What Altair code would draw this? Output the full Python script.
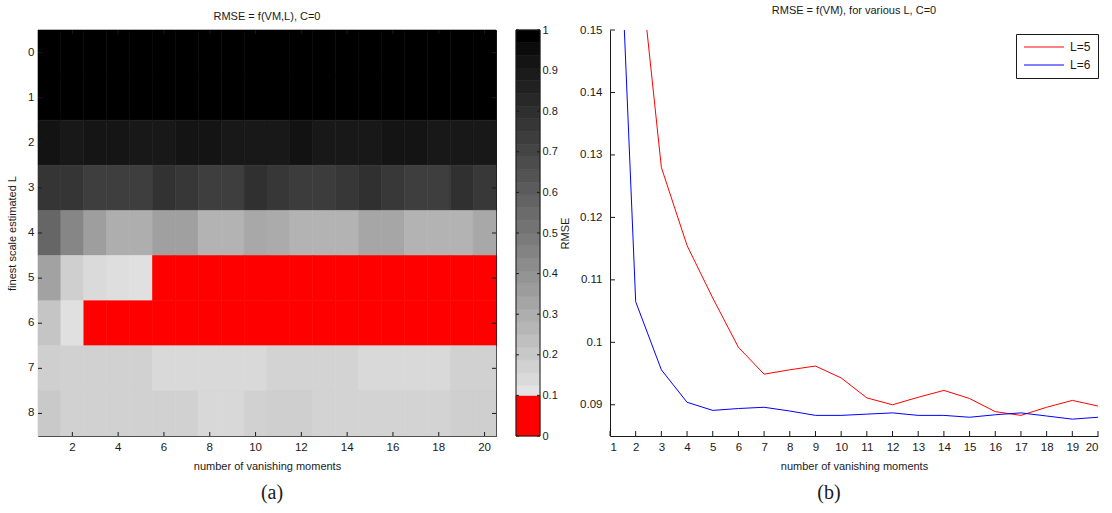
import altair as alt
import pandas as pd

# ---------------------------------------------------------------- data
vanishing_moments = [1, 2, 3, 4, 5, 6, 7, 8, 9, 10, 11, 12, 13, 14, 15, 16, 17, 18, 19, 20]
scales_L = [0, 1, 2, 3, 4, 5, 6, 7, 8]

# RMSE versus number of vanishing moments for the two best finest scales
rmse_L5 = [0.335, 0.167, 0.128, 0.1155, 0.1071, 0.0992, 0.0949, 0.0956, 0.0962, 0.0943,
           0.0911, 0.0900, 0.0912, 0.0923, 0.0910, 0.0889, 0.0883, 0.0896, 0.0907, 0.0898]
rmse_L6 = [0.205, 0.1065, 0.0956, 0.0904, 0.0891, 0.0894, 0.0896, 0.0890, 0.0883, 0.0883,
           0.0885, 0.0887, 0.0883, 0.0883, 0.0880, 0.0884, 0.0887, 0.0882, 0.0877, 0.0880]

# RMSE map, one row per finest scale L (rows 5 and 6 are the curves above)
rmse_L0 = [1.0, 1.0, 1.0, 1.0, 1.0, 1.0, 1.0, 1.0, 1.0, 1.0,
           1.0, 1.0, 1.0, 1.0, 1.0, 1.0, 1.0, 1.0, 1.0, 1.0]
rmse_L1 = [1.0, 1.0, 1.0, 1.0, 1.0, 1.0, 1.0, 1.0, 1.0, 1.0,
           1.0, 1.0, 1.0, 1.0, 1.0, 1.0, 1.0, 1.0, 1.0, 1.0]
rmse_L2 = [0.94, 0.92, 0.93, 0.93, 0.915, 0.915, 0.935, 0.935, 0.92, 0.92,
           0.92, 0.945, 0.92, 0.92, 0.92, 0.935, 0.935, 0.915, 0.915, 0.915]
rmse_L3 = [0.78, 0.78, 0.74, 0.74, 0.74, 0.79, 0.77, 0.74, 0.74, 0.80,
           0.77, 0.745, 0.745, 0.77, 0.80, 0.765, 0.737, 0.737, 0.80, 0.765]
rmse_L4 = [0.57, 0.44, 0.35, 0.29, 0.29, 0.34, 0.34, 0.27, 0.27, 0.31,
           0.30, 0.27, 0.27, 0.27, 0.32, 0.32, 0.27, 0.27, 0.27, 0.31]
rmse_L7 = [0.17, 0.16, 0.16, 0.16, 0.16, 0.133, 0.133, 0.133, 0.133, 0.133,
           0.153, 0.153, 0.153, 0.153, 0.133, 0.133, 0.133, 0.133, 0.16, 0.16]
rmse_L8 = [0.19, 0.16, 0.16, 0.16, 0.16, 0.16, 0.16, 0.137, 0.137, 0.16,
           0.17, 0.17, 0.153, 0.153, 0.153, 0.153, 0.153, 0.153, 0.17, 0.17]

map_rows = [rmse_L0, rmse_L1, rmse_L2, rmse_L3, rmse_L4, rmse_L5, rmse_L6, rmse_L7, rmse_L8]

series_names = ["L=5", "L=6"]
series_values = [rmse_L5, rmse_L6]

# tick positions
map_x_ticks = [2, 4, 6, 8, 10, 12, 14, 16, 18, 20]
map_y_ticks = [0, 1, 2, 3, 4, 5, 6, 7, 8]
cbar_ticks = [0, 0.1, 0.2, 0.3, 0.4, 0.5, 0.6, 0.7, 0.8, 0.9, 1]
line_x_ticks = [1, 2, 3, 4, 5, 6, 7, 8, 9, 10, 11, 12, 13, 14, 15, 16, 17, 18, 19, 20]
line_y_ticks = [0.09, 0.10, 0.11, 0.12, 0.13, 0.14, 0.15]

RED_BELOW = 0.1

# ---------------------------------------------------------------- styling
FONT = "Liberation Sans"
SERIF = "Liberation Serif"
INK = "#1a1a1a"
H = 406
W_MAP = 458
W_BAR = 24
W_BAR_BOX = 74
W_LINE = 488

gray = alt.Scale(domain=[0, 1], range=["#ffffff", "#000000"])

def red_or_gray(channel, field, test):
    return alt.condition(test, alt.value("#ff0000"), channel(field, scale=gray, legend=None))

# ---------------------------------------------------------------- (a) map
map_df = pd.DataFrame(
    [{"vm": v, "L": l, "rmse": r}
     for l, row in zip(scales_L, map_rows) for v, r in zip(vanishing_moments, row)]
)

x_map = alt.X(
    "vm:O",
    scale=alt.Scale(paddingInner=0, paddingOuter=0),
    axis=alt.Axis(values=map_x_ticks, labelAngle=0, ticks=False, domain=False,
                  labelPadding=5, title="number of vanishing moments", titlePadding=8),
)
y_map = alt.Y(
    "L:O",
    scale=alt.Scale(paddingInner=0, paddingOuter=0),
    axis=alt.Axis(values=map_y_ticks, ticks=False, domain=False, labelPadding=4,
                  title="finest scale estimated L", titlePadding=10),
)

cells = alt.Chart(map_df).mark_rect(strokeWidth=0.6).encode(
    x=x_map,
    y=y_map,
    color=red_or_gray(alt.Color, "rmse:Q", f"datum.rmse < {RED_BELOW}"),
    stroke=red_or_gray(alt.Stroke, "rmse:Q", f"datum.rmse < {RED_BELOW}"),
)

mx = pd.DataFrame({"vm": map_x_ticks})
my = pd.DataFrame({"L": map_y_ticks})
tick_style = dict(color=INK, strokeWidth=1)
map_ticks = [
    alt.Chart(mx).mark_rule(**tick_style).encode(x=x_map, y=alt.value(H), y2=alt.value(H - 4)),
    alt.Chart(mx).mark_rule(**tick_style).encode(x=x_map, y=alt.value(0), y2=alt.value(4)),
    alt.Chart(my).mark_rule(**tick_style).encode(y=y_map, x=alt.value(0), x2=alt.value(4)),
    alt.Chart(my).mark_rule(**tick_style).encode(y=y_map, x=alt.value(W_MAP - 4), x2=alt.value(W_MAP)),
]

cap_a = alt.Chart(pd.DataFrame({"cap": ["(a)"]})).mark_text(
    font=SERIF, fontSize=20, color=INK, baseline="middle"
).encode(text="cap:N", x=alt.value(234), y=alt.value(H + 57))

heat = alt.layer(cells, *map_ticks, cap_a).properties(
    width=W_MAP,
    height=H,
    title="RMSE = f(VM,L), C=0",
    view=alt.ViewBackground(stroke=INK, strokeWidth=1),
)

# ---------------------------------------------------------------- colour bar
# 32-step gray map, lowest band (below RED_BELOW) in red
edges = [0, RED_BELOW] + [k / 32 for k in range(4, 33)]
levels = [0] + [k / 31 for k in range(3, 32)]
cb_df = pd.DataFrame({"lo": edges[:-1], "hi": edges[1:], "level": levels})

y_bar = alt.Y(
    "lo:Q",
    scale=alt.Scale(domain=[0, 1], nice=False, zero=False),
    axis=alt.Axis(orient="right", offset=-(W_BAR_BOX - W_BAR), values=cbar_ticks, format="~g",
                  ticks=False, domain=False, grid=False, labelPadding=2, labelFontSize=11,
                  title=None),
)

bands = alt.Chart(cb_df).mark_rect(strokeWidth=0.6).encode(
    x=alt.value(0), x2=alt.value(W_BAR),
    y=y_bar, y2="hi:Q",
    color=red_or_gray(alt.Color, "level:Q", f"datum.lo < {RED_BELOW}"),
    stroke=red_or_gray(alt.Stroke, "level:Q", f"datum.lo < {RED_BELOW}"),
)
bar_frame = alt.Chart(pd.DataFrame({"lo": [0], "hi": [1]})).mark_rect(
    fillOpacity=0, stroke=INK, strokeWidth=1
).encode(x=alt.value(0), x2=alt.value(W_BAR), y=y_bar, y2="hi:Q")

ct = pd.DataFrame({"lo": cbar_ticks})
bar_ticks = [
    alt.Chart(ct).mark_rule(**tick_style).encode(y=y_bar, x=alt.value(0), x2=alt.value(3)),
    alt.Chart(ct).mark_rule(**tick_style).encode(y=y_bar, x=alt.value(W_BAR - 3), x2=alt.value(W_BAR)),
]

cbar = alt.layer(bands, bar_frame, *bar_ticks).properties(width=W_BAR_BOX, height=H)

# ---------------------------------------------------------------- (b) curves
line_df = pd.DataFrame(
    [{"vm": v, "rmse": r, "series": name}
     for name, vals in zip(series_names, series_values) for v, r in zip(vanishing_moments, vals)]
)

x_line = alt.X(
    "vm:Q",
    scale=alt.Scale(domain=[1, 20], nice=False, zero=False),
    axis=alt.Axis(values=line_x_ticks, format="d", ticks=False, grid=False, domainColor=INK,
                  labelPadding=5, title="number of vanishing moments", titlePadding=8),
)
y_line = alt.Y(
    "rmse:Q",
    scale=alt.Scale(domain=[0.085, 0.15], nice=False, zero=False),
    axis=alt.Axis(values=line_y_ticks, format="~g", ticks=False, grid=False, domainColor=INK,
                  labelPadding=8, title="RMSE", titlePadding=9),
)

# legend line sample: a 40 px horizontal stroke drawn from a custom path
curves = alt.Chart(line_df).mark_line(clip=True, strokeWidth=1).encode(
    x=x_line,
    y=y_line,
    color=alt.Color(
        "series:N",
        scale=alt.Scale(domain=series_names, range=["#ff0000", "#0000ff"]),
        legend=alt.Legend(
            title=None, orient="none", legendX=406, legendY=4,
            symbolType="M-1,0H7", symbolSize=100, symbolStrokeWidth=1,
            strokeColor=INK, fillColor="#ffffff", padding=7,
            labelFont=FONT, labelFontSize=12, labelColor=INK, labelOffset=35, rowPadding=6,
        ),
    ),
)

lx = pd.DataFrame({"vm": line_x_ticks})
ly = pd.DataFrame({"rmse": line_y_ticks})
line_ticks = [
    alt.Chart(lx).mark_rule(**tick_style).encode(x=x_line, y=alt.value(H), y2=alt.value(H - 5)),
    alt.Chart(ly).mark_rule(**tick_style).encode(y=y_line, x=alt.value(0), x2=alt.value(5)),
]

cap_b = alt.Chart(pd.DataFrame({"cap": ["(b)"]})).mark_text(
    font=SERIF, fontSize=20, color=INK, baseline="middle"
).encode(text="cap:N", x=alt.value(219), y=alt.value(H + 57))

line = alt.layer(curves, *line_ticks, cap_b).properties(
    width=W_LINE,
    height=H,
    title="RMSE = f(VM), for various L, C=0",
)

# ---------------------------------------------------------------- assemble
chart = (
    alt.hconcat(heat, cbar, line, spacing=20, bounds="flush")
    .resolve_scale(x="independent", y="independent", color="independent", stroke="independent")
    .properties(padding={"left": 6, "top": 5, "right": 0, "bottom": 0}, background="#ffffff")
    .configure_view(stroke=None)
    .configure_axis(
        labelFont=FONT, labelFontSize=11.5, labelColor=INK,
        titleFont=FONT, titleFontSize=11, titleFontWeight="normal", titleColor=INK,
    )
    .configure_title(font=FONT, fontSize=11, fontWeight="normal", color=INK, offset=8, anchor="middle")
)

chart.save("out.html", embed_options={"renderer": "svg", "actions": False})
